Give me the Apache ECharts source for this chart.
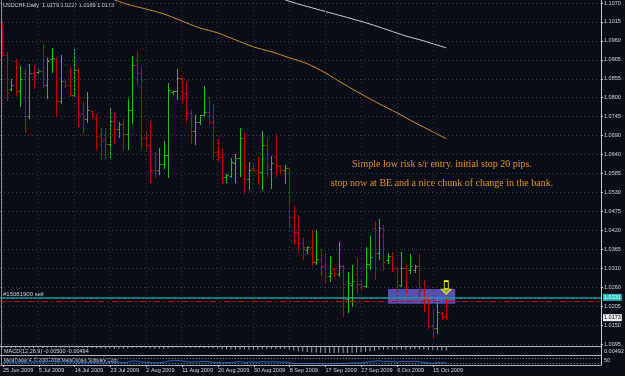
<!DOCTYPE html>
<html><head><meta charset="utf-8">
<script src="https://cdn.jsdelivr.net/npm/echarts@6/dist/echarts.min.js"></script>
<style>html,body{margin:0;padding:0;background:#090d17;}#c{width:625px;height:376px;}</style>
</head><body><div id="c"></div>
<script>
// ---- data ----
const symbolName = 'USDCHF,Daily';
const dateLabels = ['25 Jun 2009','5 Jul 2009','14 Jul 2009','23 Jul 2009','2 Aug 2009','11 Aug 2009','20 Aug 2009','30 Aug 2009','8 Sep 2009','17 Sep 2009','27 Sep 2009','6 Oct 2009','15 Oct 2009'];
const priceLabels = ['1.0095','1.0150','1.0205','1.0260','1.0310','1.0365','1.0420','1.0475','1.0530','1.0585','1.0640','1.0690','1.0745','1.0800','1.0855','1.0905','1.0960','1.1015','1.1070'];
const yMin = 1.0098, yStep = 0.0054, yMax = 1.1070;

const openP = [1.1007,1.0922,1.0826,1.0905,1.0820,1.0871,1.0749,1.0871,1.0874,1.0877,
1.0837,1.0911,1.0911,1.0791,1.0848,1.0837,1.0809,1.0880,1.0755,1.0740,
1.0763,1.0749,1.0689,1.0681,1.0669,1.0735,1.0712,1.0726,1.0698,1.0766,
1.0894,1.0871,1.0686,1.0666,1.0595,1.0593,1.0612,1.0638,1.0817,1.0820,
1.0857,1.0814,1.0757,1.0706,1.0732,1.0752,1.0760,1.0732,1.0644,1.0632,
1.0573,1.0578,1.0615,1.0627,1.0686,1.0567,1.0601,1.0595,1.0587,1.0666,
1.0598,1.0635,1.0604,1.0593,1.0601,1.0459,1.0416,1.0385,1.0365,1.0374,
1.0331,1.0340,1.0320,1.0291,1.0311,1.0297,1.0320,1.0226,1.0266,1.0297,
1.0269,1.0263,1.0325,1.0428,1.0357,1.0408,1.0337,1.0348,1.0314,1.0266,
1.0314,1.0308,1.0308,1.0320,1.0251,1.0229,1.0149,1.0143,1.0186,1.0179];
const highP = [1.1019,1.0931,1.0854,1.0911,1.0891,1.0885,1.0897,1.0894,1.0882,1.0953,
1.0914,1.0942,1.0914,1.0922,1.0849,1.0888,1.0939,1.0885,1.0789,1.0817,
1.0766,1.0755,1.0715,1.0715,1.0772,1.0757,1.0732,1.0740,1.0797,1.0919,
1.0934,1.0891,1.0701,1.0732,1.0644,1.0658,1.0678,1.0843,1.0820,1.0882,
1.0860,1.0845,1.0766,1.0752,1.0752,1.0834,1.0803,1.0783,1.0683,1.0655,
1.0584,1.0629,1.0641,1.0715,1.0703,1.0618,1.0607,1.0635,1.0706,1.0686,
1.0635,1.0698,1.0607,1.0607,1.0603,1.0490,1.0465,1.0399,1.0377,1.0422,
1.0422,1.0368,1.0357,1.0348,1.0314,1.0388,1.0323,1.0303,1.0323,1.0342,
1.0283,1.0374,1.0405,1.0450,1.0453,1.0436,1.0357,1.0359,1.0317,1.0359,
1.0323,1.0354,1.0323,1.0354,1.0280,1.0231,1.0197,1.0229,1.0188,1.0227];
const lowP = [1.0919,1.0794,1.0823,1.0809,1.0777,1.0703,1.0743,1.0828,1.0871,1.0831,
1.0800,1.0874,1.0749,1.0786,1.0834,1.0806,1.0806,1.0720,1.0701,1.0732,
1.0746,1.0655,1.0624,1.0629,1.0632,1.0672,1.0689,1.0652,1.0655,1.0729,
1.0840,1.0658,1.0658,1.0561,1.0575,1.0584,1.0601,1.0573,1.0811,1.0797,
1.0789,1.0732,1.0672,1.0669,1.0726,1.0749,1.0726,1.0624,1.0621,1.0556,
1.0561,1.0573,1.0561,1.0578,1.0527,1.0539,1.0593,1.0556,1.0541,1.0578,
1.0544,1.0578,1.0587,1.0556,1.0431,1.0382,1.0359,1.0340,1.0357,1.0323,
1.0325,1.0294,1.0274,1.0277,1.0291,1.0291,1.0178,1.0189,1.0206,1.0243,
1.0254,1.0261,1.0311,1.0283,1.0340,1.0308,1.0328,1.0305,1.0251,1.0263,
1.0246,1.0300,1.0303,1.0232,1.0192,1.0143,1.0118,1.0129,1.0169,1.0169];
const closeP = [1.0922,1.0814,1.0837,1.0820,1.0854,1.0749,1.0871,1.0865,1.0877,1.0837,
1.0905,1.0914,1.0791,1.0848,1.0837,1.0809,1.0880,1.0755,1.0740,1.0766,
1.0755,1.0692,1.0678,1.0669,1.0735,1.0712,1.0726,1.0698,1.0766,1.0894,
1.0871,1.0686,1.0666,1.0595,1.0593,1.0612,1.0638,1.0823,1.0820,1.0857,
1.0814,1.0757,1.0706,1.0732,1.0752,1.0760,1.0732,1.0644,1.0632,1.0573,
1.0581,1.0618,1.0627,1.0686,1.0567,1.0595,1.0595,1.0587,1.0666,1.0604,
1.0615,1.0607,1.0593,1.0601,1.0459,1.0416,1.0385,1.0374,1.0374,1.0331,
1.0340,1.0320,1.0291,1.0300,1.0297,1.0320,1.0226,1.0271,1.0277,1.0269,
1.0263,1.0325,1.0345,1.0357,1.0428,1.0331,1.0348,1.0314,1.0266,1.0314,
1.0274,1.0320,1.0320,1.0251,1.0229,1.0149,1.0143,1.0189,1.0175,1.0173];

const fastMaIdx = [25,28,32,36,40,44,48,52,56,60,64,68,72,76,80,84,88,92,96,99];
const fastMaVal = [1.1079,1.1066,1.1053,1.1039,1.1019,1.0999,1.0985,1.0965,1.0945,1.0931,1.0914,1.0897,1.0871,1.0840,1.0811,1.0783,1.0757,1.0729,1.0703,1.0683];
const slowMaIdx = [63,66,70,74,78,82,86,90,94,99];
const slowMaVal = [1.1079,1.1067,1.1053,1.1039,1.1025,1.1010,1.0993,1.0976,1.0962,1.0942];

const macdVals = [-0.0012,-0.0015,-0.0018,-0.0019,-0.0019,-0.0022,-0.0020,-0.0018,-0.0016,-0.0015,
-0.0013,-0.0010,-0.0011,-0.0010,-0.0009,-0.0009,-0.0007,-0.0009,-0.0012,-0.0013,
-0.0014,-0.0017,-0.0021,-0.0024,-0.0023,-0.0024,-0.0024,-0.0025,-0.0022,-0.0015,
-0.0011,-0.0012,-0.0015,-0.0020,-0.0024,-0.0026,-0.0026,-0.0018,-0.0012,-0.0008,
-0.0007,-0.0009,-0.0013,-0.0014,-0.0014,-0.0013,-0.0014,-0.0019,-0.0024,-0.0031,
-0.0035,-0.0036,-0.0036,-0.0031,-0.0036,-0.0038,-0.0038,-0.0038,-0.0033,-0.0032,
-0.0030,-0.0029,-0.0029,-0.0028,-0.0038,-0.0049,-0.0059,-0.0066,-0.0071,-0.0077,
-0.0080,-0.0082,-0.0085,-0.0085,-0.0085,-0.0082,-0.0087,-0.0085,-0.0082,-0.0079,
-0.0076,-0.0069,-0.0061,-0.0052,-0.0044,-0.0041,-0.0036,-0.0035,-0.0037,-0.0034,
-0.0035,-0.0032,-0.0030,-0.0032,-0.0035,-0.0042,-0.0047,-0.0048,-0.0050,-0.0050];
const oscVals = [30,28,32,30,34,28,36,34,35,33,
38,40,32,36,35,31,38,30,27,30,
29,25,23,24,30,28,30,27,34,45,
42,32,30,25,24,27,30,45,46,50,
44,38,32,35,37,40,36,30,28,24,
25,30,32,38,28,32,32,31,38,33,
36,34,32,33,22,18,16,15,17,14,
16,15,13,14,14,17,12,20,24,22,
22,30,35,42,48,38,42,36,32,40,
34,40,41,35,28,22,18,26,24,24];

const entryPrice = 1.0231, stopPrice = 1.0219, bidPrice = 1.0173;
const zoneBars = ['86','101'], zonePrices = [1.0213, 1.0255];
const arrowBar = '99', arrowStem = 1.0266, arrowHead = 1.0247;
const orderLabel = '#15081900 sell';
const noteLines = ['Simple low risk s/r entry. initial stop 20 pips.', 'stop now at BE and a nice chunk of change in the bank.'];

// ---- chart ----
const slotCount = 134, tickEvery = 8;
const slots = Array.from({length: slotCount}, (_, i) => String(i));
const ohlc = openP.map((o, i) => [i, o, highP[i], lowP[i], closeP[i]]);
const isLabelSlot = i => i % tickEvery === 0 && i / tickEvery < dateLabels.length;
const UP = '#1fbf1f', DOWN = '#c80000';
const FONT = 'Liberation Sans';
const grayTxt = '#d4d4d4';
const CLEAR = 'rgba(0,0,0,0)';

const vGrid = dateLabels.map((_, k) => ({xAxis: String(k * tickEvery)}));

function levelSeries(name, z, items, lineStyle, label) {
  return {type: 'line', name, data: [], z, silent: true,
    markLine: {silent: true, symbol: ['none', 'none'], precision: 4, lineStyle,
      label: label || {show: false}, data: items}};
}

const chart = echarts.init(document.getElementById('c'));
const option = {
  backgroundColor: '#090d17',
  animation: false,
  grid: [
    {left: 0, top: 2, width: 601, height: 342},
    {left: 0, top: 347, width: 601, height: 7},
    {left: 0, top: 356, width: 601, height: 9}
  ],
  xAxis: [
    {type: 'category', gridIndex: 0, data: slots, show: false},
    {type: 'category', gridIndex: 1, data: slots, show: false},
    {type: 'category', gridIndex: 2, data: slots,
      axisLine: {show: true, lineStyle: {color: '#b4b4b4'}},
      axisTick: {show: true, alignWithLabel: true, interval: i => isLabelSlot(i), length: 2, lineStyle: {color: '#c8c8c8'}},
      axisLabel: {show: true, interval: i => isLabelSlot(i), formatter: (v, i) => dateLabels[i / tickEvery] || '',
        align: 'left', fontSize: 5.5, fontFamily: FONT, color: grayTxt, margin: 2},
      splitLine: {show: false}}
  ],
  yAxis: [
    {type: 'value', gridIndex: 0, position: 'right', min: yMin, max: yMax, interval: yStep,
      axisLine: {show: true, lineStyle: {color: '#c8c8c8'}},
      axisTick: {show: true, length: 2, lineStyle: {color: '#c8c8c8'}},
      axisLabel: {fontSize: 5.5, fontFamily: FONT, color: grayTxt, margin: 3,
        formatter: v => priceLabels[Math.round((v - yMin) / yStep)] || ''},
      splitLine: {show: true, lineStyle: {color: '#3a404c', type: [1, 3], width: 1}}},
    {type: 'value', gridIndex: 1, min: -0.010, max: 0, show: false, splitLine: {show: false}},
    {type: 'value', gridIndex: 2, min: 0, max: 100, show: false, splitLine: {show: false}}
  ],
  series: [
    {type: 'line', name: 'zone', data: [], z: 1, silent: true,
      markArea: {silent: true, itemStyle: {color: 'rgba(104,92,204,0.85)'},
        data: [[{xAxis: zoneBars[0], yAxis: zonePrices[1]}, {xAxis: zoneBars[1], yAxis: zonePrices[0]}]]}},
    {type: 'line', name: 'grid', data: [], z: 1, silent: true,
      markLine: {silent: true, symbol: ['none', 'none'], label: {show: false},
        lineStyle: {color: '#2f3542', type: [1, 3], width: 1}, data: vGrid}},
    {type: 'line', name: 'MA fast', data: fastMaIdx.map((b, k) => [String(b), fastMaVal[k]]),
      clip: false, smooth: 0.3, symbol: 'none', z: 2, lineStyle: {color: '#d98a2c', width: 1}},
    {type: 'line', name: 'MA slow', data: slowMaIdx.map((b, k) => [String(b), slowMaVal[k]]),
      clip: false, smooth: 0.3, symbol: 'none', z: 2, lineStyle: {color: '#cfcfcf', width: 1}},
    levelSeries('stop', 2, [{yAxis: stopPrice}],
      {color: '#d40000', type: [6, 3, 2, 3], width: 1, opacity: 1}),
    {type: 'custom', name: 'USDCHF', data: ohlc, z: 3, encode: {x: 0, y: [1, 2, 3, 4]},
      renderItem: (params, api) => {
        const idx = api.value(0);
        const px = Math.round(api.coord([idx, api.value(2)])[0]) + 0.5;
        const yo = Math.round(api.coord([idx, api.value(1)])[1]) + 0.5;
        const yh = Math.round(api.coord([idx, api.value(2)])[1]);
        const yl = Math.round(api.coord([idx, api.value(3)])[1]) + 1;
        const yc = Math.round(api.coord([idx, api.value(4)])[1]) + 0.5;
        const col = api.value(4) >= api.value(1) ? UP : DOWN;
        const st = {stroke: col, lineWidth: 1};
        return {type: 'group', children: [
          {type: 'line', shape: {x1: px, y1: yh, x2: px, y2: yl}, style: st},
          {type: 'line', shape: {x1: px - 2, y1: yo, x2: px, y2: yo}, style: st},
          {type: 'line', shape: {x1: px, y1: yc, x2: px + 2, y2: yc}, style: st}
        ]};
      }},
    levelSeries('entry', 4, [{yAxis: entryPrice}],
      {color: '#169c9c', type: 'solid', width: 1.5},
      {show: true, position: 'end', formatter: entryPrice.toFixed(4), color: '#ffffff',
        backgroundColor: '#19bcbc', fontSize: 5.5, fontFamily: FONT, padding: [1, 1, 0, 1], distance: 2}),
    levelSeries('order label', 5, [{yAxis: entryPrice}],
      {color: CLEAR, width: 0.1},
      {show: true, position: 'insideStartTop', formatter: orderLabel, color: '#d0d0d0',
        fontSize: 6, fontFamily: FONT, distance: [3, 0]}),
    levelSeries('bid', 5, [{yAxis: bidPrice}],
      {color: CLEAR, width: 0.1},
      {show: true, position: 'end', formatter: bidPrice.toFixed(4), color: '#000000',
        backgroundColor: '#f0f0f0', fontSize: 5.5, fontFamily: FONT, padding: [1, 1, 0, 1], distance: 2}),
    {type: 'line', name: 'arrow', data: [], z: 6, silent: true,
      markPoint: {silent: true, label: {show: false},
        data: [
          {coord: [arrowBar, arrowStem], symbol: 'rect', symbolSize: [4, 8],
            itemStyle: {color: CLEAR, borderColor: '#ffff1a', borderWidth: 1.2}},
          {coord: [arrowBar, arrowHead], symbol: 'path://M0,0 L10,0 L5,5 Z', symbolSize: [10, 5],
            itemStyle: {color: '#9c9a5a', borderColor: '#e8e420', borderWidth: 1}}
        ]}},
    {type: 'bar', name: 'MACD', xAxisIndex: 1, yAxisIndex: 1, data: macdVals, barWidth: 1,
      itemStyle: {color: '#a0a0a0'}, silent: true},
    {type: 'line', name: 'osc', xAxisIndex: 2, yAxisIndex: 2, data: oscVals, symbol: 'none',
      lineStyle: {color: '#2a68d6', width: 1}, silent: true,
      markLine: {silent: true, symbol: ['none', 'none'], label: {show: false},
        lineStyle: {color: '#9a9a9a', type: [1, 2], width: 1}, data: [{yAxis: 80}, {yAxis: 20}]}}
  ],
  graphic: [
    {type: 'line', shape: {x1: 1.5, y1: 0, x2: 1.5, y2: 365}, style: {stroke: '#8c8c8c', lineWidth: 1}, silent: true},
    {type: 'line', shape: {x1: 601.5, y1: 0, x2: 601.5, y2: 365}, style: {stroke: '#c8c8c8', lineWidth: 1}, silent: true},
    {type: 'line', shape: {x1: 0, y1: 346.5, x2: 601, y2: 346.5}, style: {stroke: '#b4b4b4', lineWidth: 1}, silent: true},
    {type: 'line', shape: {x1: 0, y1: 355.5, x2: 601, y2: 355.5}, style: {stroke: '#b4b4b4', lineWidth: 1}, silent: true},
    {type: 'text', left: 3, top: 2, silent: true,
      style: {text: symbolName + '  ' + [openP[99], highP[99], lowP[99], closeP[99]].map(v => v.toFixed(4)).join(' '),
        fill: grayTxt, font: '5.5px "Liberation Sans"'}},
    {type: 'text', left: 4, top: 348.5, silent: true,
      style: {text: 'MACD(12,26,9) -0.00500 -0.00494', fill: grayTxt, font: '5.5px "Liberation Sans"'}},
    {type: 'text', left: 4, top: 358, silent: true,
      style: {text: 'MetaTrader 4, \u00a9 2001-2008 MetaQuotes Software Corp.', fill: '#c8c8c8', font: '4.6px "Liberation Sans"'}},
    {type: 'text', left: 604, top: 348.5, silent: true,
      style: {text: '0.00492', fill: grayTxt, font: '5.5px "Liberation Sans"'}},
    {type: 'text', left: 604, top: 357.5, silent: true,
      style: {text: '50', fill: grayTxt, font: '5.5px "Liberation Sans"'}},
    {type: 'text', x: 442, y: 164, silent: true,
      style: {text: noteLines[0], fill: '#e8921e', font: '10px "Liberation Serif"', align: 'center', verticalAlign: 'middle'}},
    {type: 'text', x: 442, y: 183, silent: true,
      style: {text: noteLines[1], fill: '#e8921e', font: '10px "Liberation Serif"', align: 'center', verticalAlign: 'middle'}}
  ]
};
chart.setOption(option);
</script></body></html>
